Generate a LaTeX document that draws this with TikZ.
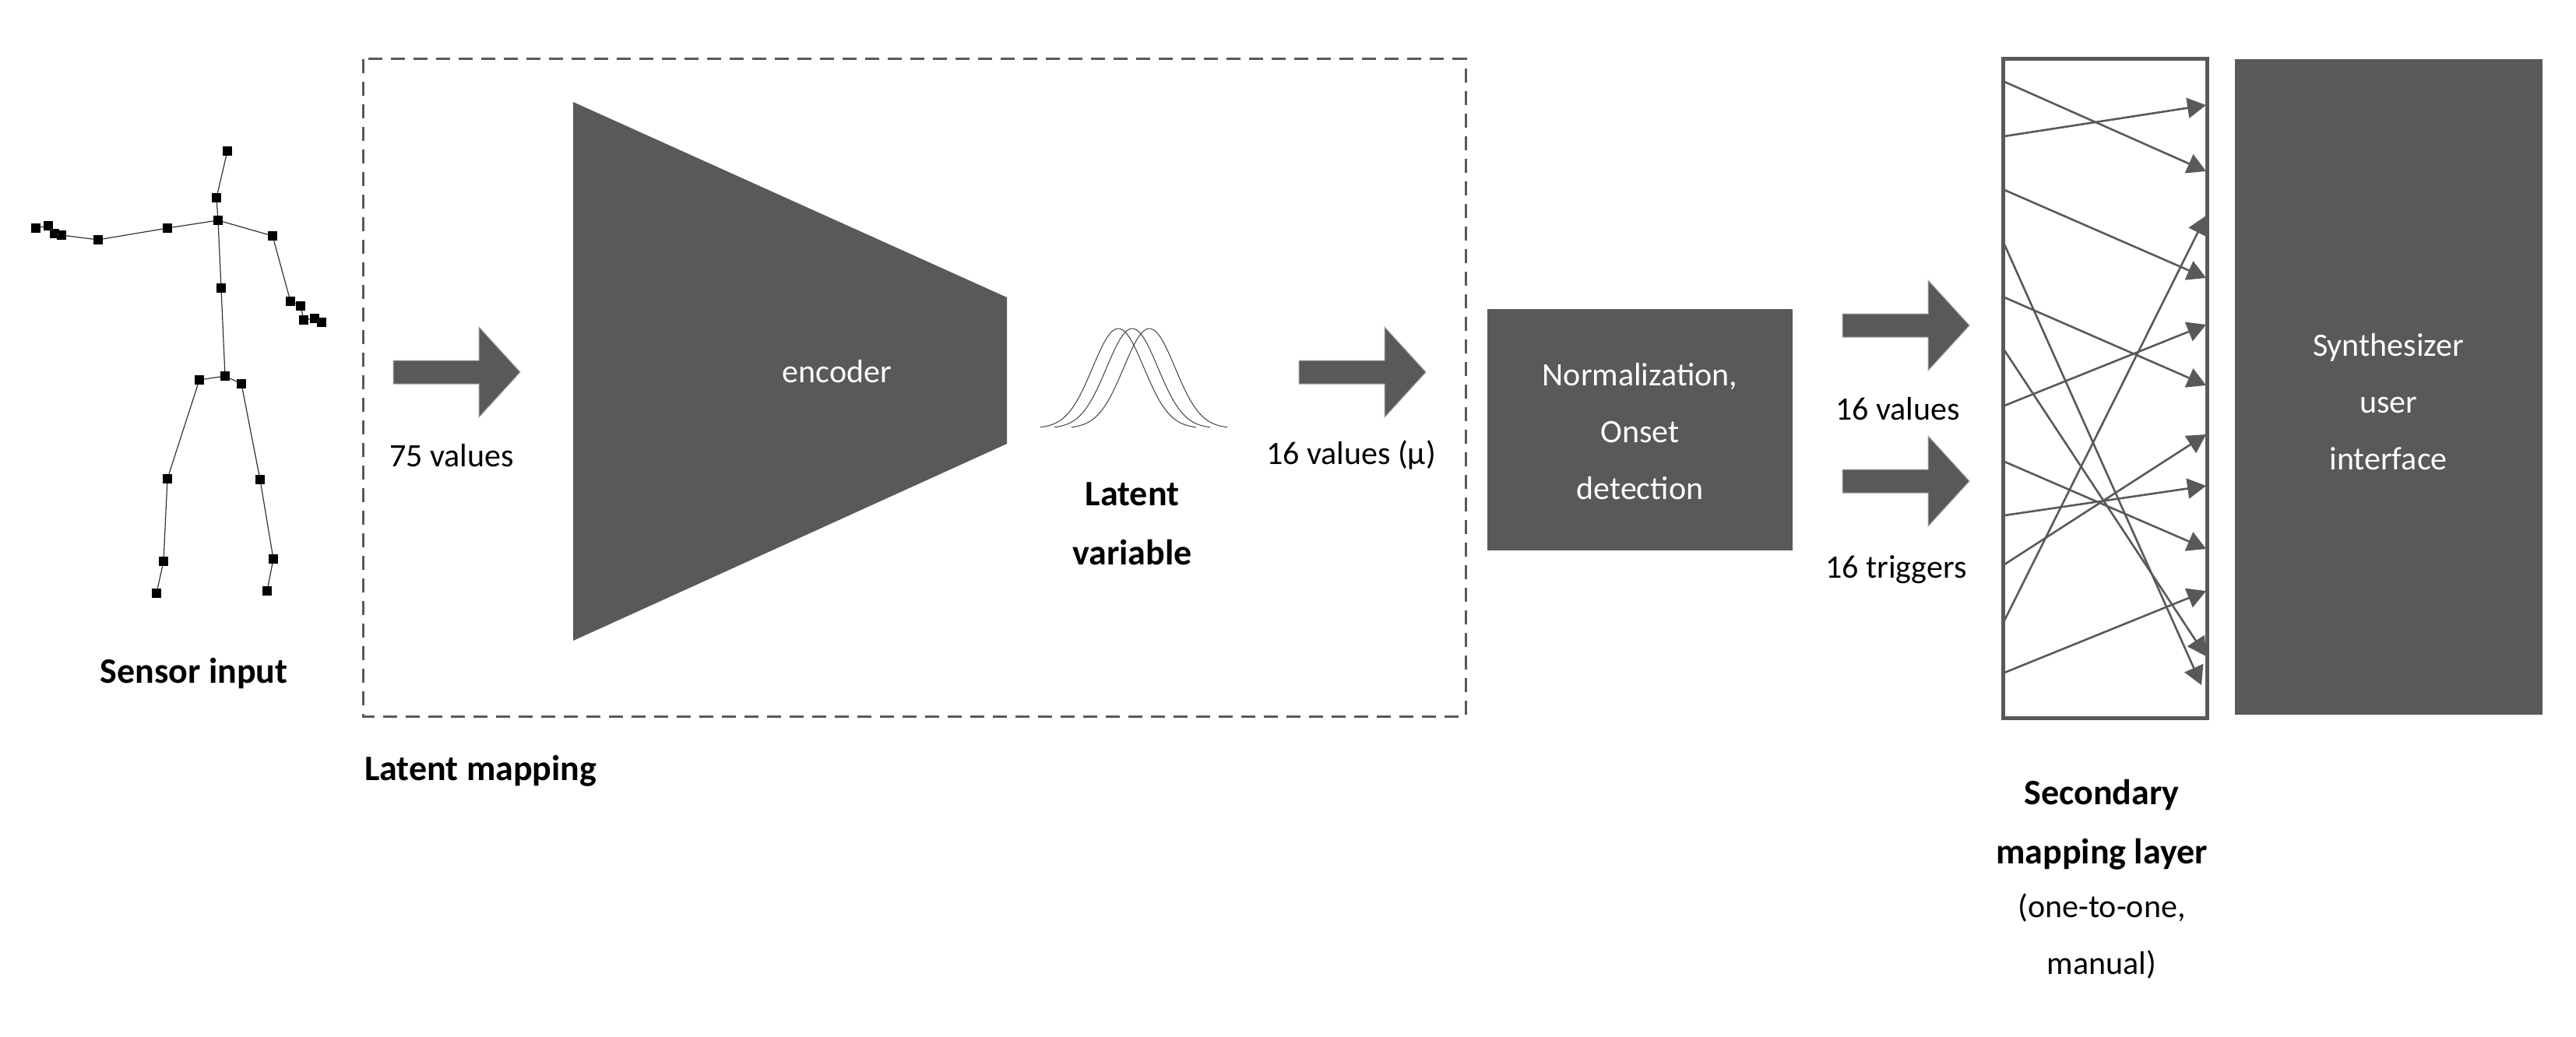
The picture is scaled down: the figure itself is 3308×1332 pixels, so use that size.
\documentclass[tikz,border=0pt]{standalone}
\usepackage{fontspec}
\setmainfont{Carlito}
\usetikzlibrary{arrows.meta}
\definecolor{dg}{HTML}{595959}
\begin{document}
\begin{tikzpicture}[x=1pt,y=-1pt,
  txt/.style={font=\fontsize{42}{73}\selectfont, align=center, inner sep=0pt},
  btxt/.style={font=\fontsize{46}{76}\selectfont\bfseries, align=center, inner sep=0pt},
  joint/.style={fill=black, minimum size=12pt, inner sep=0pt},
  bone/.style={draw=black!80, line width=1.2pt},
  map/.style={draw=dg, line width=2.6pt, -{Triangle[length=24pt,width=26pt]}},
  box/.style={fill=dg, draw=none},
  pics/fatarrow/.style={code={
    \fill[dg, draw=gray!70, line width=1pt] (0,-15) -- (110,-15) -- (110,-58) -- (163,0) -- (110,58) -- (110,15) -- (0,15) -- cycle;}}
]
\useasboundingbox (0,0) rectangle (3308,1332);

% ---------- skeleton ----------
\foreach \n/\x/\y in {head/292/194, neck/278/254, sc/280/283, sp/284/370, hc/289/483,
  hl/256/488, hr/310/493, kl/215/615, al/210/721, fl/201/762, kr/334/616, ar/351/718, fr/343/759,
  sl/215/293, el/126/308, wl/79/302, h1/70/300, h2/62/290, h3/46/293,
  sr/350/303, er/373/387, wr/386/393, h4/390/411, h5/404/409, h6/413/414}
  \node[joint] (\n) at (\x,\y) {};
\foreach \a/\b in {head/neck, neck/sc, sc/sp, sp/hc, hc/hl, hc/hr, hl/kl, kl/al, al/fl,
  hr/kr, kr/ar, ar/fr, sc/sl, sl/el, el/wl, wl/h1, h1/h2, h2/h3, sc/sr, sr/er, er/wr, wr/h4, h4/h5, h5/h6}
  \draw[bone] (\a) -- (\b);
\node[btxt] (sensor) at (249,865) {Sensor input};

% ---------- latent mapping ----------
\draw[dg, line width=3pt, dash pattern=on 18pt off 11pt] (466,76) rectangle (1882,920);
\node[btxt, anchor=west] (lmap) at (468,990) {Latent mapping};
\pic at (505,478) {fatarrow};
\node[txt] (v75) at (580,585) {75 values};
\fill[box] (736,131) -- (1293,382) -- (1293,570) -- (736,823) -- cycle;
\node[txt, text=white] (enc) at (1075,477) {encoder};
% gaussians
\foreach \o in {0,18,40}
  \draw[black!75, line width=1pt, domain=-100:100, samples=60, smooth]
    plot ({1436+\o+\x}, {550-128*exp(-(\x*\x)/(2*33*33))});
\node[btxt] (lv) at (1454,673) {Latent\\variable};
\pic at (1668,478) {fatarrow};
\node[txt] (v16) at (1735,585) {16 values (µ)};

% ---------- normalization ----------
\fill[box] (1910,397) rectangle (2302,707);
\node[txt, text=white] (norm) at (2106,554) {Normalization,\\Onset\\detection};
\pic at (2366,418) {fatarrow};
\pic at (2366,618) {fatarrow};
\node[txt] (vals) at (2437,525) {16 values};
\node[txt] (trig) at (2435,732) {16 triggers};

% ---------- secondary mapping layer ----------
\draw[dg, line width=5pt] (2572,76) rectangle (2834,922);
\foreach \l/\r in {105/220, 175/135, 244/357, 382/495, 450/843, 521/417, 593/705, 662/624, 725/558, 797/277, 864/759}
  \draw[map] (2574,\l) -- (2833,\r);
\draw[map] (2574,314) -- (2827,880);
\node[btxt] (sec) at (2699,1059) {Secondary\\mapping layer};
\node[txt] (sec2) at (2699,1203) {(one-to-one,\\manual)};

% ---------- synthesizer ----------
\fill[box] (2870,76) rectangle (3265,918);
\node[txt, text=white] (syn) at (3067,516) {Synthesizer\\user\\interface};
\end{tikzpicture}
\end{document}
